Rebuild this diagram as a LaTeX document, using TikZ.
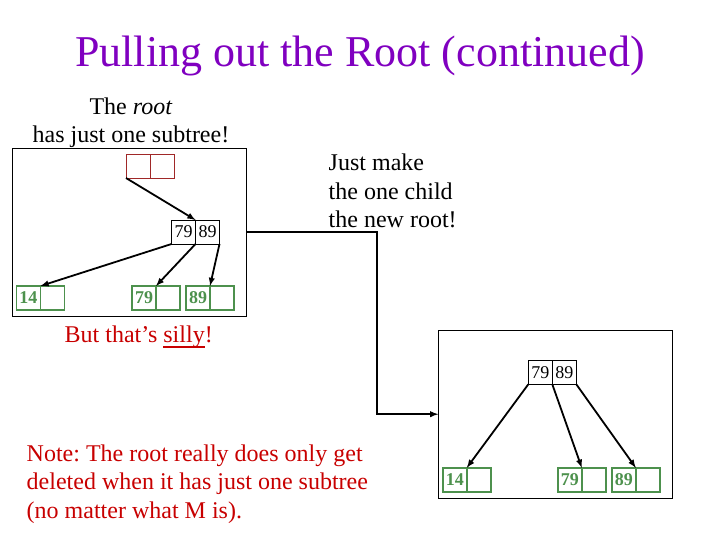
\documentclass[tikz,border=0pt]{standalone}
\usepackage{fontspec}
\setmainfont{Liberation Serif}
\usetikzlibrary{arrows,positioning,calc}
\definecolor{titlepurple}{RGB}{128,0,192}
\definecolor{notered}{RGB}{200,0,0}
\definecolor{leafgreen}{RGB}{77,145,77}
\definecolor{rootred}{RGB}{160,40,40}
\newcommand{\slidefont}[1]{\fontsize{#1}{1.19\dimexpr#1pt\relax}\selectfont}
\newcommand{\thickul}[1]{\setbox0\hbox{#1}\leavevmode\rlap{\vrule height -4pt depth 6pt width \wd0}\box0}
\frenchspacing

\begin{document}
\begin{tikzpicture}[x=1pt,y=-1pt,>=latex,line width=0.8pt]
  \tikzstyle{cell}=[draw,minimum width=24pt,minimum height=24pt,inner sep=0pt,outer sep=0pt,font=\fontsize{18}{18}\selectfont]
  \tikzstyle{rootcell}=[cell,draw=rootred]
  \tikzstyle{leaf}=[cell,draw=leafgreen,line width=1.6pt,text=leafgreen,font=\fontsize{18}{18}\selectfont\bfseries]
  \tikzstyle{treebox}=[draw,minimum width=234pt,minimum height=168pt,inner sep=0pt,outer sep=0pt]
  \tikzstyle{ptr}=[->,line width=1.8pt]
  \useasboundingbox (0,0) rectangle (720,540);
  % title
  \node[anchor=base,text=titlepurple,font=\fontsize{44}{44}\selectfont] (title) at (360,67) {Pulling out the Root (continued)};
  % old tree
  \node[anchor=base,font=\fontsize{24}{28}\selectfont,align=center] (oldlab) at (131,143) {The \textit{root}\\has just one subtree!};
  \node[treebox] (oldtree) at (129.7,232.2) {};
  \node[rootcell] (r1) at (138,166) {};
  \node[rootcell,right=0pt of r1] (r2) {};
  \node[cell] (m1) at (183.5,232) {79};
  \node[cell,right=0pt of m1] (m2) {89};
  \node[leaf] (a1) at (28.5,298) {14};
  \node[leaf,right=0pt of a1] (a2) {};
  \node[leaf] (b1) at (144,298) {79};
  \node[leaf,right=0pt of b1] (b2) {};
  \node[leaf] (c1) at (198,298) {89};
  \node[leaf,right=0pt of c1] (c2) {};
  \draw[ptr] (r1.south west) -- (m1.north east);
  \draw[ptr] (m1.south west) -- (a1.north east);
  \draw[ptr] (m1.south east) -- (b1.north east);
  \draw[ptr] (m2.south east) -- (c1.north east);
  \node[anchor=base west,text=notered,font=\slidefont{24}] (silly) at (61,342) {But that’s \thickul{silly}!};
  % new tree
  \node[anchor=base west,font=\fontsize{24}{28.5}\selectfont,align=left] (make) at (325,228) {Just make\\the one child\\the new root!};
  \node[treebox] (newtree) at (555.3,414.2) {};
  \node[cell] (n1) at (540.3,372.3) {79};
  \node[cell,right=0pt of n1] (n2) {89};
  \node[leaf] (d1) at (454.8,479.8) {14};
  \node[leaf,right=0pt of d1] (d2) {};
  \node[leaf] (e1) at (569.8,479.8) {79};
  \node[leaf,right=0pt of e1] (e2) {};
  \node[leaf] (f1) at (623.8,479.8) {89};
  \node[leaf,right=0pt of f1] (f2) {};
  \draw[ptr] (n1.south west) -- (d1.north east);
  \draw[ptr] (n2.south west) -- (e1.north east);
  \draw[ptr] (n2.south east) -- (f1.north east);
  \coordinate (bend) at (377,232.2);
  \draw[->,line width=1.8pt] (oldtree.east) -- (bend) |- (newtree.west);
  \node[anchor=base west,text=notered,font=\fontsize{24}{28.5}\selectfont,align=left] (note) at (23,518) {Note: The root really does only get\\deleted when it has just one subtree\\(no matter what M is).};
\end{tikzpicture}
\end{document}
